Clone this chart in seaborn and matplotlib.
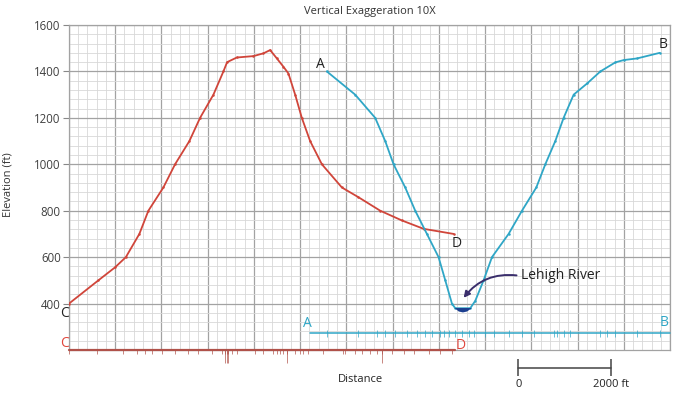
import numpy as np
import pandas as pd
import matplotlib
matplotlib.use("Agg")
import matplotlib.pyplot as plt
from matplotlib.ticker import MultipleLocator
import seaborn as sns

# ---------------- data ----------------
cd_dist = [0, 635, 996, 1230, 1522, 1717, 2041, 2294, 2604, 2835, 3124, 3340, 3420,
           3630, 3990, 4206, 4351, 4496, 4639, 4747, 4892, 5036, 5216, 5470, 5903,
           6262, 6732, 7201, 7670, 8319]
cd_elev = [400, 500, 556, 600, 700, 800, 900, 1000, 1100, 1200, 1300, 1400, 1440,
           1460, 1466, 1478, 1492, 1456, 1420, 1391, 1300, 1200, 1100, 1000, 900,
           858, 800, 758, 722, 700]

ab_dist = [5577, 6190, 6623, 6840, 7020, 7273, 7489, 7742, 7994, 8139, 8283, 8355,
           8680, 8788, 8968, 9149, 9509, 9798, 10108, 10303, 10519, 10699, 10916,
           11206, 11494, 11818, 12000, 12288, 12777]
ab_elev = [1400, 1300, 1200, 1100, 1000, 900, 800, 700, 600, 500, 400, 380,
           380, 412, 500, 600, 700, 800, 900, 1000, 1100, 1200, 1300,
           1348, 1400, 1439, 1449, 1456, 1480]

river_dist = [8340, 8420, 8510, 8600, 8690]
river_top = [383, 383, 383, 383, 383]
river_bottom = [381, 368, 364, 368, 381]

# contour-crossing hash marks on the map traces
cd_ticks = [0, 600, 1175, 1465, 1645, 1790, 2006, 2294, 2582, 2799, 3089, 3305, 3377,
            3413, 3448, 3522, 3630, 4026, 4206, 4422, 4496, 4567, 4639, 4712, 4892,
            5000, 5071, 5180, 5504, 5937, 5974, 6190, 6335, 6515, 6660, 6768, 6985,
            7236, 7452, 7777, 8030, 8283]
cd_long = [3377, 3413, 3448, 4712, 6768]
ab_ticks = [5578, 6262, 6660, 6840, 7056, 7309, 7526, 7706, 7851, 8030, 8102, 8210,
            8355, 8500, 8643, 8751, 9004, 9184, 9509, 9799, 10050, 10483, 10556,
            10699, 10844, 11494, 11638, 11818, 12288, 12792]

cd_trace = [0, 8355]
ab_trace = [5216, 13000]
trace_ab_y = 272
trace_cd_y = 200

yticks = [400, 600, 800, 1000, 1200, 1400, 1600]
scale_bar = [9719, 11719]

RED = "#d0453a"
CYAN = "#2fa6c6"
DARKRED = "#b0524a"

# ---------------- figure ----------------
sns.set_theme(style="white")
plt.rcParams["font.family"] = ["Open Sans", "DejaVu Sans"]

fig = plt.figure(figsize=(6.85, 3.99), dpi=100)
ax = fig.add_axes([69 / 685, 1 - 350 / 399, 601 / 685, 325 / 399])

cd = pd.DataFrame({"dist": cd_dist, "elev": cd_elev})
ab = pd.DataFrame({"dist": ab_dist, "elev": ab_elev})

sns.lineplot(data=cd, x="dist", y="elev", sort=False, color=RED, lw=1.3,
             marker="o", markersize=1.8, markeredgewidth=0, ax=ax, zorder=5)
sns.lineplot(data=ab, x="dist", y="elev", sort=False, color=CYAN, lw=1.3,
             marker="o", markersize=1.8, markeredgewidth=0, ax=ax, zorder=5)

ax.fill_between(river_dist, river_bottom, river_top, color="#1d3f8f", zorder=6, lw=0)

ax.set_xlim(0, 13000)
ax.set_ylim(200, 1600)
ax.xaxis.set_major_locator(MultipleLocator(1000))
ax.xaxis.set_minor_locator(MultipleLocator(200))
ax.set_yticks(yticks)
ax.yaxis.set_minor_locator(MultipleLocator(40))
ax.grid(which="major", color="#a2a2a2", lw=0.9, zorder=1)
ax.grid(which="minor", color="#d8d8d8", lw=0.6, zorder=0)
ax.set_axisbelow(True)
ax.tick_params(axis="x", which="both", bottom=False, labelbottom=False)
ax.tick_params(axis="y", which="major", left=True, length=4, width=0.8,
               color="#888888", labelsize=8.3, labelcolor="#404040", pad=2)
ax.tick_params(axis="y", which="minor", left=False)
for s in ax.spines.values():
    s.set_color("#a2a2a2")
    s.set_linewidth(0.9)

ax.set_xlabel("")
ax.set_ylabel("Elevation (ft)", fontsize=8, color="#333333")
ax.yaxis.set_label_coords(-0.092, 0.51)
ax.set_title("Vertical Exaggeration 10X", fontsize=8, color="#333333", pad=8)

# ---- map traces with hash marks ----
ax.plot(ab_trace, [trace_ab_y, trace_ab_y], color=CYAN, lw=1.1, zorder=4, clip_on=False)
ax.vlines(ab_ticks, trace_ab_y - 14, trace_ab_y + 14, color=CYAN, lw=0.7, alpha=0.7,
          zorder=4)
ax.plot(cd_trace, [trace_cd_y, trace_cd_y], color=DARKRED, lw=1.6, zorder=7, clip_on=False)
ax.vlines(cd_ticks, trace_cd_y - 17, trace_cd_y + 4, color=DARKRED, lw=0.7, alpha=0.7,
          zorder=7, clip_on=False)
ax.vlines(cd_long, trace_cd_y - 55, trace_cd_y, color=DARKRED, lw=0.7, alpha=0.7,
          zorder=7, clip_on=False)

# ---- labels ----
lab = dict(fontsize=10, ha="center", va="center", zorder=8, clip_on=False)
ax.text(-90, 356, "C", color="#222222", **lab)
ax.text(5433, 1431, "A", color="#222222", **lab)
ax.text(12850, 1514, "B", color="#222222", **lab)
ax.text(8391, 660, "D", color="#222222", **lab)
ax.text(-90, 230, "C", color="#e0463c", **lab)
ax.text(8463, 221, "D", color="#e0463c", **lab)
ax.text(5158, 314, "A", color=CYAN, **lab)
ax.text(12879, 318, "B", color=CYAN, **lab)

ax.text(9784, 520, "Lehigh River", fontsize=10, ha="left", va="center",
        color="#222222", zorder=8)
ax.annotate("", xy=(8500, 415), xytext=(9740, 520),
            arrowprops=dict(arrowstyle="-|>", color="#3a2e6c", lw=1.4,
                            connectionstyle="arc3,rad=0.3", mutation_scale=9),
            zorder=8)

# ---- distance label and scale bar ----
ax.text(6300, 75, "Distance", fontsize=8, ha="center", va="center",
        color="#222222", clip_on=False)
ax.plot(scale_bar, [124, 124], color="#444444", lw=1.1, clip_on=False)
ax.vlines(scale_bar, 88, 161, color="#444444", lw=1.1, clip_on=False)
ax.text(scale_bar[0], 50, "0", fontsize=8, ha="center", va="center",
        color="#222222", clip_on=False)
ax.text(scale_bar[1], 50, "2000 ft", fontsize=8, ha="center", va="center",
        color="#222222", clip_on=False)

fig.savefig("out.png", dpi=100)
